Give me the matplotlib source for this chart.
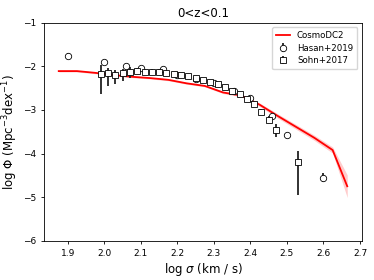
import numpy as np
import matplotlib
matplotlib.use("Agg")
import matplotlib.pyplot as plt

# CosmoDC2 model curve
dc2_x = [1.875, 1.925, 1.975, 2.025, 2.075, 2.125, 2.175, 2.225, 2.275, 2.325,
         2.375, 2.425, 2.475, 2.525, 2.575, 2.625, 2.665]
dc2_y = [-2.11, -2.11, -2.15, -2.20, -2.24, -2.27, -2.31, -2.39, -2.45, -2.60,
         -2.67, -2.88, -3.14, -3.39, -3.64, -3.92, -4.75]
dc2_err = [0.02, 0.02, 0.02, 0.02, 0.02, 0.02, 0.02, 0.02, 0.02, 0.025,
           0.03, 0.04, 0.05, 0.055, 0.06, 0.07, 0.26]

# Hasan+2019
hasan_x = [1.90, 2.00, 2.06, 2.10, 2.16, 2.20, 2.25, 2.30, 2.355, 2.40, 2.46, 2.50, 2.60]
hasan_y = [-1.76, -1.91, -1.99, -2.03, -2.06, -2.19, -2.28, -2.38, -2.56, -2.72, -3.15, -3.57, -4.55]
hasan_err = [0.06, 0.03, 0.03, 0.03, 0.03, 0.02, 0.02, 0.02, 0.02, 0.03, 0.03, 0.04, 0.10]

# Sohn+2017
sohn_x = [1.99, 2.01, 2.03, 2.05, 2.07, 2.09, 2.11, 2.13, 2.15, 2.17, 2.19, 2.21, 2.23,
          2.25, 2.27, 2.29, 2.31, 2.33, 2.35, 2.37, 2.39, 2.41, 2.43, 2.45, 2.47, 2.53]
sohn_y = [-2.18, -2.16, -2.20, -2.16, -2.12, -2.10, -2.12, -2.12, -2.12, -2.15, -2.18,
          -2.21, -2.22, -2.26, -2.31, -2.35, -2.41, -2.48, -2.56, -2.64, -2.74, -2.87,
          -3.04, -3.22, -3.46, -4.20]
sohn_lo = [0.46, 0.29, 0.21, 0.17, 0.15, 0.06, 0.06, 0.05, 0.05, 0.04, 0.03, 0.03, 0.03,
           0.03, 0.03, 0.03, 0.03, 0.03, 0.03, 0.04, 0.04, 0.05, 0.06, 0.08, 0.16, 0.75]
sohn_hi = [0.21, 0.13, 0.12, 0.09, 0.10, 0.05, 0.05, 0.05, 0.05, 0.04, 0.03, 0.03, 0.03,
           0.03, 0.03, 0.03, 0.03, 0.03, 0.03, 0.04, 0.04, 0.05, 0.06, 0.07, 0.14, 0.25]

fig = plt.figure(figsize=(3.74, 2.80), dpi=100)
ax = fig.add_axes([0.1185, 0.140, 0.8485, 0.779])

dx = np.array(dc2_x); dy = np.array(dc2_y); de = np.array(dc2_err)
ax.fill_between(dx, dy - de, dy + de, color='red', alpha=0.2, lw=0)
ax.plot(dx, dy, color='red', lw=1.3, label='CosmoDC2')

ax.errorbar(hasan_x, hasan_y, yerr=hasan_err, fmt='o', mfc='white', mec='black',
            mew=0.6, ms=4.6, ecolor='#222222', elinewidth=1.3, capsize=0,
            label='Hasan+2019')
ax.errorbar(sohn_x, sohn_y, yerr=[sohn_lo, sohn_hi], fmt='s', mfc='white', mec='black',
            mew=0.6, ms=4.6, ecolor='#222222', elinewidth=1.3, capsize=0,
            label='Sohn+2017')

ax.set_ylim(-6, -1)
ax.set_xlim(1.8355, 2.7045)
ax.set_xticks([1.9, 2.0, 2.1, 2.2, 2.3, 2.4, 2.5, 2.6, 2.7])
ax.set_yticks([-6, -5, -4, -3, -2, -1])
ax.tick_params(labelsize=6.5, length=2.5, width=0.6)
for s in ax.spines.values():
    s.set_linewidth(0.6)
ax.set_xlabel(r'log $\sigma$ (km / s)', fontsize=8.5, labelpad=2)
ax.set_ylabel(r'log $\Phi$ (Mpc$^{-3}$dex$^{-1}$)', fontsize=8.5, labelpad=2)
ax.set_title('0<z<0.1', fontsize=8.5, pad=4)
ax.legend(loc='upper right', fontsize=6.2, frameon=True, handlelength=1.6,
          borderpad=0.5, labelspacing=0.4, fancybox=True)

fig.savefig('out.png', dpi=100)
